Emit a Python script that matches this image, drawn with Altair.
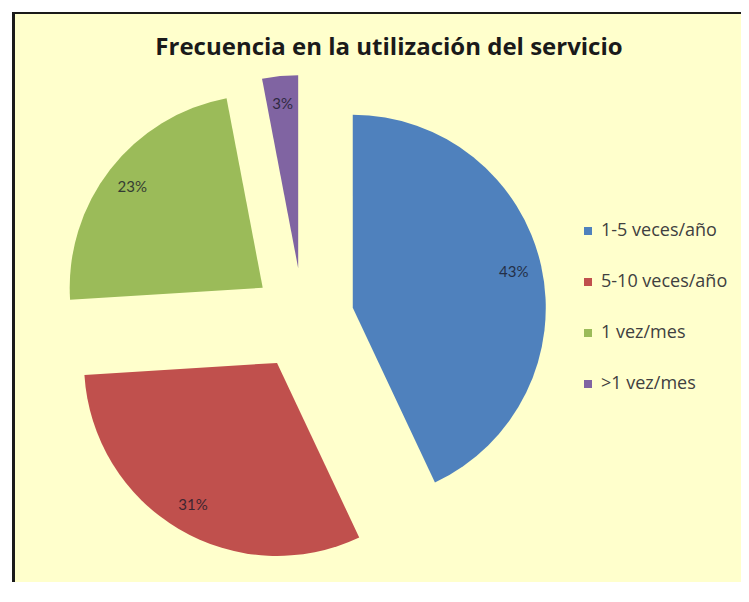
import altair as alt
import pandas as pd

# ---- data ----
categories = ["1-5 veces/año", "5-10 veces/año", "1 vez/mes", ">1 vez/mes"]
values = [43, 31, 23, 3]
pct_labels = ["43%", "31%", "23%", "3%"]
colors = ["#4F81BD", "#C0504D", "#9BBB59", "#8064A2"]
title_text = "Frecuencia en la utilización del servicio"

df = pd.DataFrame({"cat": categories, "value": values, "label": pct_labels,
                   "idx": list(range(len(categories)))})

# ---- layout constants ----
W, H = 729, 570
CX, CY = 291, 307
R = 193
EXPLODE = 51
LABEL_R = EXPLODE + 165

base = (
    alt.Chart(df)
    .transform_window(cum="sum(value)", sort=[alt.SortField("idx")], frame=[None, 0])
    .transform_joinaggregate(total="sum(value)")
    .transform_calculate(
        a0="2*PI*(datum.cum - datum.value)/datum.total",
        a1="2*PI*datum.cum/datum.total",
    )
    .transform_calculate(mid="(datum.a0 + datum.a1)/2")
    .transform_calculate(
        px=f"{CX} + {EXPLODE}*sin(datum.mid)",
        py=f"{CY} - {EXPLODE}*cos(datum.mid)",
        lx=f"{CX} + {LABEL_R}*sin(datum.mid)",
        ly=f"{CY} - {LABEL_R}*cos(datum.mid)",
    )
)

pie = base.mark_arc(outerRadius=R).encode(
    theta=alt.Theta("a0:Q", scale=None, stack=None),
    theta2="a1:Q",
    x=alt.X("px:Q", scale=None, axis=None),
    y=alt.Y("py:Q", scale=None, axis=None),
    color=alt.Color(
        "cat:N",
        scale=alt.Scale(domain=categories, range=colors),
        sort=categories,
        legend=alt.Legend(
            title=None, orient="none", legendX=567, legendY=210,
            symbolType="square", symbolSize=64, symbolStrokeWidth=0,
            labelFontSize=18, labelFont="Open Sans", labelColor="#404040",
            rowPadding=33, labelOffset=4, padding=0,
        ),
    ),
)

labels = base.mark_text(fontSize=15, font="Lato", color="#1a1a2a", opacity=0.8).encode(
    x=alt.X("lx:Q", scale=None, axis=None),
    y=alt.Y("ly:Q", scale=None, axis=None),
    text="label:N",
)

title = alt.Chart(pd.DataFrame({"t": [title_text]})).mark_text(
    font="Open Sans", fontSize=24, fontWeight="bold", color="#1a1a1a",
    align="center", baseline="middle",
).encode(x=alt.value(377), y=alt.value(36), text="t:N")

border_left = alt.Chart(pd.DataFrame({"a": [0]})).mark_rule(
    color="#1a1a1a", strokeWidth=3
).encode(x=alt.value(1.5), y=alt.value(0), y2=alt.value(H))

border_top = alt.Chart(pd.DataFrame({"a": [0]})).mark_rule(
    color="#1a1a1a", strokeWidth=2
).encode(y=alt.value(1), x=alt.value(0), x2=alt.value(W))

chart = (
    alt.layer(pie, labels, title, border_left, border_top)
    .properties(
        width=W, height=H,
        padding={"left": 4, "top": 4, "right": 0, "bottom": 0},
        autosize=alt.AutoSizeParams(type="none"),
        background="white",
    )
    .configure_view(fill="#FFFFCC", stroke="transparent", strokeWidth=0)
)

chart.save("out.html", embed_options={"renderer": "svg", "actions": False})
